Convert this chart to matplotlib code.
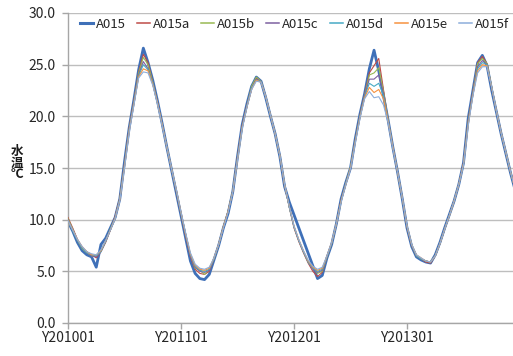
import numpy as np
import matplotlib
matplotlib.use("Agg")
import matplotlib.pyplot as plt

plt.rcParams['font.family'] = ['Noto Sans CJK JP', 'DejaVu Sans']

# half-month steps, 24 per year, 2010-2013
year_labels = ['Y201001', 'Y201101', 'Y201201', 'Y201301']
series_names = ['A015', 'A015a', 'A015b', 'A015c', 'A015d', 'A015e', 'A015f']

A015 = ([9.8, 8.9, 7.8, 7.0, 6.6, 6.4, 5.4, 7.6, 8.2, 9.2, 10.2, 12.0, 15.6, 18.9, 21.6, 24.5, 26.6, 25.2, 23.5, 21.5, 19.3, 17.0, 14.8, 12.6]
        + [10.4, 8.2, 6.0, 4.8, 4.3, 4.2, 4.7, 6.1, 7.5, 9.2, 10.6, 12.7, 16.1, 19.2, 21.2, 22.9, 23.8, 23.4, 21.8, 20.0, 18.3, 16.1, 13.2, 11.7]
        + [None, None, None, None, None, 4.3, 4.6, 6.3, 7.6, 9.6, 12.0, 13.6, 15.0, 17.8, 20.2, 22.2, 24.6, 26.4, 24.4, 22.0, 19.6, 17.0, 14.6, 12.0]
        + [9.2, 7.4, 6.4, 6.1, 5.9, 5.8, 6.6, 7.8, 9.2, 10.5, 11.8, 13.4, 15.5, 19.8, 22.5, 25.2, 25.9, 24.9, 22.5, 20.4, 18.3, 16.4, 14.5, 12.8])

A015a = ([10.2, 9.2, 8.1, 7.3, 6.9, 6.6, 6.3, 6.9, 7.8, 9.0, 10.3, 12.1, 15.4, 18.9, 21.5, 24.3, 26.0, 25.2, 23.3, 21.4, 19.2, 17.0, 14.9, 12.7]
         + [10.5, 8.4, 6.4, 5.2, 4.8, 4.7, 5.0, 6.2, 7.6, 9.3, 10.8, 12.8, 16.1, 19.1, 21.1, 22.8, 23.7, 23.4, 21.9, 20.1, 18.3, 16.2, 13.3, 11.2]
         + [9.2, 7.9, 6.8, 5.8, 5.0, 4.5, 4.9, 6.4, 7.7, 9.6, 11.9, 13.5, 15.0, 17.7, 20.1, 22.1, 24.2, 24.9, 25.6, 22.6, 19.6, 17.0, 14.6, 12.1]
         + [9.3, 7.5, 6.5, 6.2, 5.9, 5.8, 6.5, 7.7, 9.1, 10.4, 11.8, 13.4, 15.5, 19.6, 22.4, 25.2, 25.8, 25.1, 22.7, 20.5, 18.4, 16.5, 14.6, 12.9])

A015b = ([10.1, 9.1, 8.0, 7.2, 6.8, 6.5, 6.5, 7.0, 7.9, 9.1, 10.2, 12.0, 15.3, 18.8, 21.4, 24.2, 25.7, 25.0, 23.3, 21.3, 19.2, 17.0, 14.9, 12.8]
         + [10.6, 8.5, 6.6, 5.3, 5.1, 4.7, 5.2, 6.2, 7.6, 9.3, 10.8, 12.8, 16.0, 19.0, 21.0, 22.9, 23.8, 23.4, 21.9, 20.1, 18.3, 16.2, 13.4, 11.2]
         + [9.3, 8.0, 6.9, 5.9, 5.3, 4.8, 5.0, 6.4, 7.7, 9.6, 11.8, 13.5, 15.1, 17.6, 20.0, 22.0, 24.0, 24.2, 24.7, 22.4, 19.6, 17.0, 14.6, 12.1]
         + [9.3, 7.5, 6.5, 6.2, 6.0, 5.9, 6.5, 7.7, 9.1, 10.4, 11.8, 13.4, 15.4, 19.5, 22.3, 25.1, 25.6, 25.1, 22.8, 20.5, 18.4, 16.5, 14.6, 12.9])

A015c = ([10.0, 9.0, 8.0, 7.3, 6.8, 6.5, 6.4, 6.9, 7.9, 9.0, 10.2, 12.0, 15.3, 18.8, 21.4, 24.0, 25.3, 24.6, 23.2, 21.3, 19.2, 17.0, 14.9, 12.8]
         + [10.6, 8.5, 6.5, 5.4, 5.0, 4.9, 5.1, 6.2, 7.6, 9.3, 10.8, 12.8, 16.0, 19.0, 21.0, 22.7, 23.6, 23.4, 21.9, 20.1, 18.3, 16.2, 13.4, 11.2]
         + [9.3, 8.0, 6.9, 5.9, 5.2, 4.9, 5.1, 6.4, 7.7, 9.6, 11.8, 13.5, 15.0, 17.6, 20.0, 22.0, 23.6, 23.6, 24.0, 22.2, 19.6, 17.0, 14.6, 12.1]
         + [9.3, 7.5, 6.5, 6.2, 6.0, 5.9, 6.5, 7.7, 9.1, 10.4, 11.8, 13.4, 15.4, 19.4, 22.3, 24.8, 25.4, 25.0, 22.8, 20.5, 18.4, 16.5, 14.6, 12.9])

A015d = ([9.9, 8.9, 8.0, 7.3, 6.8, 6.6, 6.5, 6.9, 7.9, 9.0, 10.1, 12.0, 15.2, 18.7, 21.3, 23.9, 25.0, 24.5, 23.2, 21.3, 19.2, 17.0, 14.9, 12.8]
         + [10.6, 8.6, 6.6, 5.5, 5.1, 5.0, 5.2, 6.2, 7.6, 9.3, 10.8, 12.8, 15.9, 18.9, 21.0, 22.7, 23.5, 23.4, 21.9, 20.1, 18.3, 16.2, 13.4, 11.2]
         + [9.3, 8.0, 6.9, 5.9, 5.3, 5.0, 5.2, 6.4, 7.7, 9.6, 11.8, 13.5, 15.0, 17.6, 20.0, 21.9, 23.2, 22.9, 23.2, 22.0, 19.6, 17.0, 14.6, 12.1]
         + [9.4, 7.6, 6.5, 6.2, 6.0, 5.9, 6.5, 7.7, 9.1, 10.4, 11.8, 13.4, 15.4, 19.3, 22.2, 24.6, 25.2, 25.0, 22.8, 20.5, 18.4, 16.5, 14.6, 12.9])

A015e = ([9.9, 9.0, 8.1, 7.4, 6.9, 6.6, 6.6, 7.0, 8.0, 9.0, 10.1, 11.9, 15.1, 18.6, 21.2, 23.8, 24.6, 24.4, 23.1, 21.3, 19.2, 17.0, 14.9, 12.9]
         + [10.7, 8.6, 6.7, 5.6, 5.2, 5.1, 5.3, 6.3, 7.6, 9.3, 10.8, 12.7, 15.8, 18.9, 20.9, 22.6, 23.5, 23.3, 21.9, 20.1, 18.3, 16.2, 13.4, 11.3]
         + [9.4, 8.1, 7.0, 6.0, 5.4, 5.1, 5.3, 6.5, 7.8, 9.6, 11.8, 13.4, 15.0, 17.5, 19.9, 21.8, 22.8, 22.3, 22.6, 21.7, 19.5, 17.0, 14.6, 12.1]
         + [9.4, 7.6, 6.6, 6.3, 6.0, 5.9, 6.5, 7.7, 9.1, 10.4, 11.8, 13.4, 15.4, 19.2, 22.1, 24.4, 25.0, 24.9, 22.8, 20.5, 18.4, 16.5, 14.6, 12.9])

A015f = ([9.9, 9.0, 8.1, 7.4, 6.9, 6.7, 6.6, 7.1, 8.0, 9.0, 10.1, 11.9, 15.0, 18.5, 21.1, 23.7, 24.3, 24.2, 23.0, 21.2, 19.1, 17.0, 14.9, 12.9]
         + [10.7, 8.7, 6.8, 5.7, 5.3, 5.2, 5.4, 6.3, 7.6, 9.2, 10.7, 12.7, 15.8, 18.8, 20.9, 22.6, 23.4, 23.3, 21.9, 20.1, 18.3, 16.2, 13.4, 11.3]
         + [9.4, 8.1, 7.0, 6.1, 5.5, 5.2, 5.4, 6.5, 7.8, 9.6, 11.7, 13.4, 14.9, 17.4, 19.8, 21.7, 22.4, 21.8, 21.9, 21.1, 19.4, 16.9, 14.6, 12.1]
         + [9.4, 7.6, 6.6, 6.3, 6.0, 5.9, 6.5, 7.7, 9.1, 10.4, 11.8, 13.4, 15.3, 19.1, 22.0, 24.2, 24.8, 24.8, 22.8, 20.5, 18.4, 16.5, 14.6, 12.9])

colors = ['#3F70B8', '#BE4B48', '#98B954', '#7D60A0', '#46AAC5', '#F69240', '#8DAEDB']

W, H = 513, 356
fig = plt.figure(figsize=(W / 100, H / 100), dpi=100)
# plot area runs past the right edge (chart is cropped)
ax = fig.add_axes([68 / W, 33 / H, 452 / W, 310 / H])

all_series = [A015, A015a, A015b, A015c, A015d, A015e, A015f]
for k, (name, vals) in enumerate(zip(series_names, all_series)):
    x = np.array([i for i, v in enumerate(vals) if v is not None])
    y = np.array([v for v in vals if v is not None])
    lw = 2.0 if k == 0 else 0.8
    ax.plot(x, y, color=colors[k], lw=lw, label=name, zorder=2 + k)

ax.set_xlim(0, 96)
ax.set_ylim(0, 30)
ax.set_yticks(np.arange(0, 31, 5))
ax.set_yticklabels(['%.1f' % v for v in np.arange(0, 31, 5)])
ax.set_xticks([0, 24, 48, 72])
ax.set_xticklabels(year_labels)
ax.grid(axis='y', color='#BEBEBE', lw=1.0)
ax.set_axisbelow(True)
for s in ['top', 'right']:
    ax.spines[s].set_visible(False)
for s in ['left', 'bottom']:
    ax.spines[s].set_color('#A6A6A6')
    ax.spines[s].set_linewidth(1.0)
ax.tick_params(axis='both', colors='#A6A6A6', labelcolor='#262626',
               length=4, width=1.0, labelsize=10)
ax.tick_params(axis='y', pad=5)
ax.tick_params(axis='x', pad=2)

# vertical axis title, one character per row
for ch, yc in zip(['水', '温', '℃'], [151, 163, 175]):
    fig.text(17 / W, 1 - yc / H, ch, ha='center', va='center',
             fontsize=9, fontweight='bold', color='#1A1A1A')

leg = ax.legend(loc='center left', bbox_to_anchor=(80 / W, 1 - 24 / H),
                bbox_transform=fig.transFigure, ncol=7, frameon=False,
                fontsize=9.5, handlelength=1.0, handletextpad=0.2,
                columnspacing=0.85, borderpad=0, borderaxespad=0)
for t in leg.get_texts():
    t.set_color('#262626')
for k, ln in enumerate(leg.get_lines()):
    ln.set_linewidth(2.2 if k == 0 else 1.1)

fig.savefig('out.png', dpi=100)
